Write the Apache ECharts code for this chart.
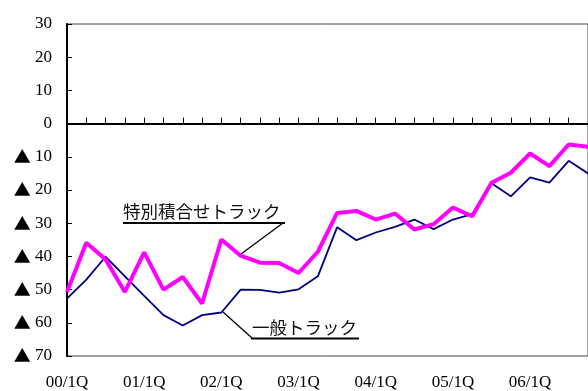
<!DOCTYPE html>
<html>
<head>
<meta charset="utf-8">
<script src="https://cdn.jsdelivr.net/npm/echarts@6/dist/echarts.min.js"></script>
<style>
html,body{margin:0;padding:0;background:#fff;}
#chart{width:588px;height:391px;}
</style>
</head>
<body>
<div id="chart"></div>
<script>
const categories = ["00/1Q","00/2Q","00/3Q","00/4Q","01/1Q","01/2Q","01/3Q","01/4Q","02/1Q","02/2Q","02/3Q","02/4Q","03/1Q","03/2Q","03/3Q","03/4Q","04/1Q","04/2Q","04/3Q","04/4Q","05/1Q","05/2Q","05/3Q","05/4Q","06/1Q","06/2Q","06/3Q","06/4Q"];
const tokusekiValues = [-50.7,-35.9,-40.9,-50.7,-38.8,-50.0,-46.2,-54.2,-34.9,-39.8,-41.9,-42.0,-45.0,-38.6,-26.9,-26.3,-28.9,-27.1,-31.9,-30.3,-25.3,-27.9,-17.8,-14.8,-9.0,-12.8,-6.3,-7.0];
const ippanValues = [-52.7,-47.0,-40.1,-46.0,-51.9,-57.7,-60.8,-57.7,-56.9,-50.0,-50.1,-50.9,-49.9,-46.0,-31.2,-35.1,-32.8,-31.1,-28.9,-31.8,-28.9,-27.3,-18.0,-21.9,-16.2,-17.8,-11.2,-15.0];
const tokusekiName = "特別積合せトラック";
const ippanName = "一般トラック";
const yMin = -70, yMax = 30, yStep = 10;

const serif = "'Liberation Serif','Times New Roman',serif";
const jp = "'Noto Sans CJK JP',sans-serif";

const chart = echarts.init(document.getElementById('chart'), null, {renderer:'canvas'});
chart.setOption({
  animation: false,
  backgroundColor: '#fff',
  grid: {left: 67, top: 24, width: 530, height: 332, show: true, borderColor: '#444', borderWidth: 1, backgroundColor: 'transparent'},
  xAxis: {
    type: 'category', data: categories, boundaryGap: false,
    axisLine: {lineStyle: {color: '#000', width: 2}},
    axisTick: {inside: true, length: 6, interval: 0, lineStyle: {color: '#000', width: 1}},
    axisLabel: {interval: 3, margin: 18, color: '#000', fontFamily: serif, fontSize: 17},
    splitLine: {show: false}
  },
  yAxis: {
    type: 'value', min: yMin, max: yMax, interval: yStep,
    axisLine: {show: true, lineStyle: {color: '#000', width: 2}},
    axisTick: {show: true, inside: true, length: 5, lineStyle: {color: '#000', width: 1}},
    axisLabel: {margin: 15, color: '#000', fontFamily: serif, fontSize: 17,
      formatter: v => v < 0 ? '{t|▲} ' + (-v) : String(v),
      rich: {t: {fontFamily: jp, fontSize: 17, color: '#000'}}},
    splitLine: {show: false}
  },
  series: [
    {name: ippanName, type: 'line', data: ippanValues, symbol: 'none',
     lineStyle: {color: '#000080', width: 1.8}, z: 2,
     markLine: {silent: true, symbol: 'none', label: {show: false},
       lineStyle: {type: [1, 2], color: '#000', width: 1}, data: [{yAxis: 0}]}},
    {name: tokusekiName, type: 'line', data: tokusekiValues, symbol: 'none',
     lineStyle: {color: '#FF00FF', width: 4}, z: 3}
  ],
  graphic: [
    {type: 'text', left: 123, top: 203, style: {text: tokusekiName, font: '17.5px ' + jp, fill: '#111'}},
    {type: 'line', shape: {x1: 123, y1: 223, x2: 285, y2: 223}, style: {stroke: '#000', lineWidth: 2}},
    {type: 'line', shape: {x1: 283, y1: 223, x2: 241, y2: 254}, style: {stroke: '#000', lineWidth: 1.3}},
    {type: 'text', left: 252, top: 319, style: {text: ippanName, font: '17.5px ' + jp, fill: '#111'}},
    {type: 'line', shape: {x1: 251, y1: 338.5, x2: 359, y2: 338.5}, style: {stroke: '#000', lineWidth: 2}},
    {type: 'line', shape: {x1: 223, y1: 312, x2: 252, y2: 338}, style: {stroke: '#000', lineWidth: 1.3}}
  ]
});
</script>
</body>
</html>
